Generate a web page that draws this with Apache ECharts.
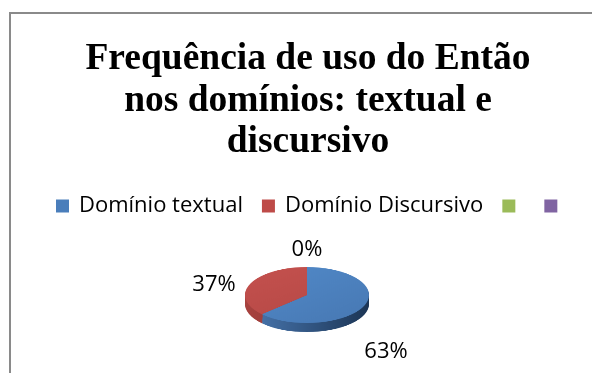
<!DOCTYPE html>
<html>
<head>
<meta charset="utf-8">
<script src="https://cdn.jsdelivr.net/npm/echarts@6.0.0/dist/echarts.min.js"></script>
<style>
html,body{margin:0;padding:0;background:#fff;}
#main{position:absolute;left:0;top:0;width:592px;height:373px;}
#pie{position:absolute;left:207px;top:195px;width:200px;height:200px;transform:scaleY(0.4516);transform-origin:50% 50%;}
</style>
</head>
<body>
<div id="main"></div>
<div id="pie"></div>
<script>
// ---- data ----
const titleLines = ['Frequência de uso do Então', 'nos domínios: textual e', 'discursivo'];
const categories = ['Domínio textual', 'Domínio Discursivo', '\u200b', '\u200b\u200b'];
const values = [63, 37, 0, 0];
const faceColors = ['#4a7ebb', '#be4b48', '#9bbb59', '#8064a2'];

// ---- main chart: frame, title, legend, labels ----
const main = echarts.init(document.getElementById('main'), null, {renderer: 'canvas'});
const labelPos = [[386, 352], [214, 285], [307, 250], [307, 250]];
main.setOption({
  backgroundColor: '#fff',
  animation: false,
  color: faceColors,
  graphic: [{
    type: 'rect', silent: true, z: -10,
    shape: {x: 10, y: 13, width: 700, height: 500},
    style: {fill: null, stroke: '#8a8a8a', lineWidth: 2}
  }],
  title: {
    text: titleLines.join('\n'),
    left: 308, top: 39, textAlign: 'center', padding: 0,
    textStyle: {fontFamily: 'Liberation Serif', fontWeight: 'bold', fontSize: 37.5, lineHeight: 41.5, color: '#000'}
  },
  legend: {
    data: categories,
    left: 56, top: 195, padding: 0,
    icon: 'rect', itemWidth: 13, itemHeight: 13, itemGap: 19,
    selectedMode: false,
    textStyle: {fontFamily: 'Open Sans', fontSize: 22, color: '#000', padding: [0, 0, 0, 5]}
  },
  series: [{
    type: 'pie',
    center: [307, 295], radius: [0, 1],
    startAngle: 90, clockwise: true,
    avoidLabelOverlap: false, silent: true,
    itemStyle: {borderWidth: 0},
    label: {
      show: true, position: 'outside', color: '#000',
      fontFamily: 'Open Sans', fontSize: 22,
      formatter: p => Math.round(p.percent) + '%'
    },
    labelLine: {show: false},
    labelLayout: p => ({x: labelPos[p.dataIndex][0], y: labelPos[p.dataIndex][1], align: 'center', verticalAlign: 'middle'}),
    data: values.map((v, i) => ({value: v, name: categories[i], label: {show: i !== 3}}))
  }]
});

// ---- 3D pie body (flattened by CSS) ----
const pie = echarts.init(document.getElementById('pie'), null, {renderer: 'canvas'});
const G = echarts.graphic.LinearGradient;
const sideColors = [
  new G(0, 0, 1, 0, [{offset: 0, color: '#4470a6'}, {offset: 1, color: '#1c3555'}]),
  new G(0, 0, 1, 0, [{offset: 0, color: '#a8423f'}, {offset: 1, color: '#8e3734'}]),
  '#7a9a40', '#604a80'
];
const topColors = [
  new G(0, 0, 1, 1, [{offset: 0, color: '#5189c8'}, {offset: 1, color: '#4778b3'}]),
  new G(0, 0, 1, 1, [{offset: 0, color: '#c4514e'}, {offset: 1, color: '#b84a47'}]),
  '#9bbb59', '#8064a2'
];
const layers = [];
const steps = 10;
for (let s = steps; s >= 0; s--) {
  layers.push({
    type: 'pie', center: [100, 100 + s * 2], radius: [0, 62],
    startAngle: 90, clockwise: true, silent: true,
    label: {show: false}, labelLine: {show: false},
    itemStyle: {borderWidth: 0},
    data: values.map((v, i) => ({value: v, name: categories[i], itemStyle: {color: s === 0 ? topColors[i] : sideColors[i]}}))
  });
}
pie.setOption({animation: false, series: layers});
</script>
</body>
</html>
